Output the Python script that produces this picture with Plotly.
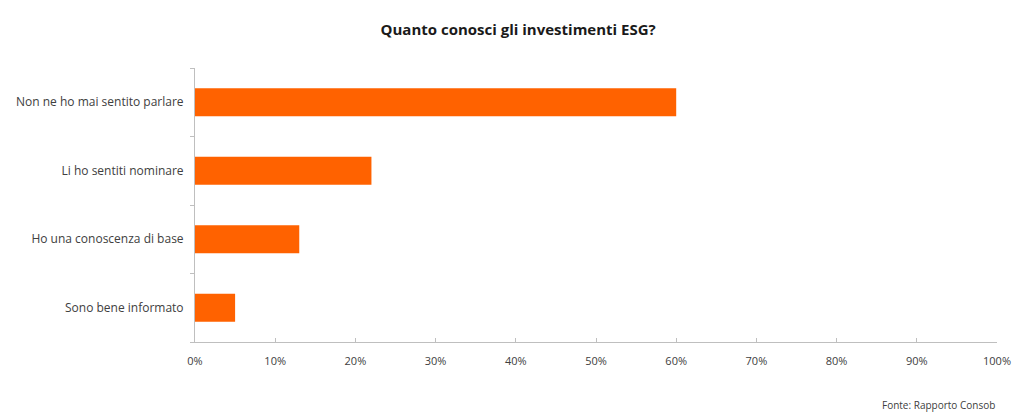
import plotly.graph_objects as go

categories = ["Non ne ho mai sentito parlare", "Li ho sentiti nominare",
              "Ho una conoscenza di base", "Sono bene informato"]
values = [0.60, 0.22, 0.13, 0.05]
x_ticks = [i / 10 for i in range(11)]
x_tick_labels = [f"{i*10}%" for i in range(11)]

FONT = "Open Sans, sans-serif"
fig = go.Figure(go.Bar(
    y=categories, x=values, orientation="h",
    marker=dict(color="#FF6200", line=dict(width=0)),
    hoverinfo="x+y",
))
fig.update_layout(
    width=1024, height=420,
    margin=dict(l=195, r=27, t=68, b=78),
    paper_bgcolor="white", plot_bgcolor="white",
    bargap=0.59,
    showlegend=False,
    font=dict(family=FONT, size=12, color="#404040"),
    title=dict(text="<b>Quanto conosci gli investimenti ESG?</b>",
               x=0.506, xanchor="center", y=0.928, yanchor="middle",
               font=dict(family=FONT, size=15, color="#1a1a1a")),
    xaxis=dict(range=[0, 1], tickvals=x_ticks, ticktext=x_tick_labels,
               showgrid=False, zeroline=False, showline=True,
               linecolor="#bfbfbf", linewidth=1,
               ticks="inside", ticklen=4, tickcolor="#bfbfbf",
               ticklabelstandoff=9,
               tickfont=dict(size=11, color="#404040")),
    yaxis=dict(categoryorder="array", categoryarray=categories[::-1],
               showgrid=False, zeroline=False, showline=True,
               linecolor="#bfbfbf", linewidth=1,
               ticks="outside", ticklen=4, tickcolor="#bfbfbf",
               tickson="boundaries", ticklabelstandoff=8,
               tickfont=dict(size=12, color="#404040")),
    annotations=[dict(text="Fonte: Rapporto Consob", xref="paper", yref="paper",
                      x=1.0, y=-0.23, xanchor="right", yanchor="middle",
                      showarrow=False, font=dict(family=FONT, size=10, color="#404040"))],
)
fig.write_html("out.html")
